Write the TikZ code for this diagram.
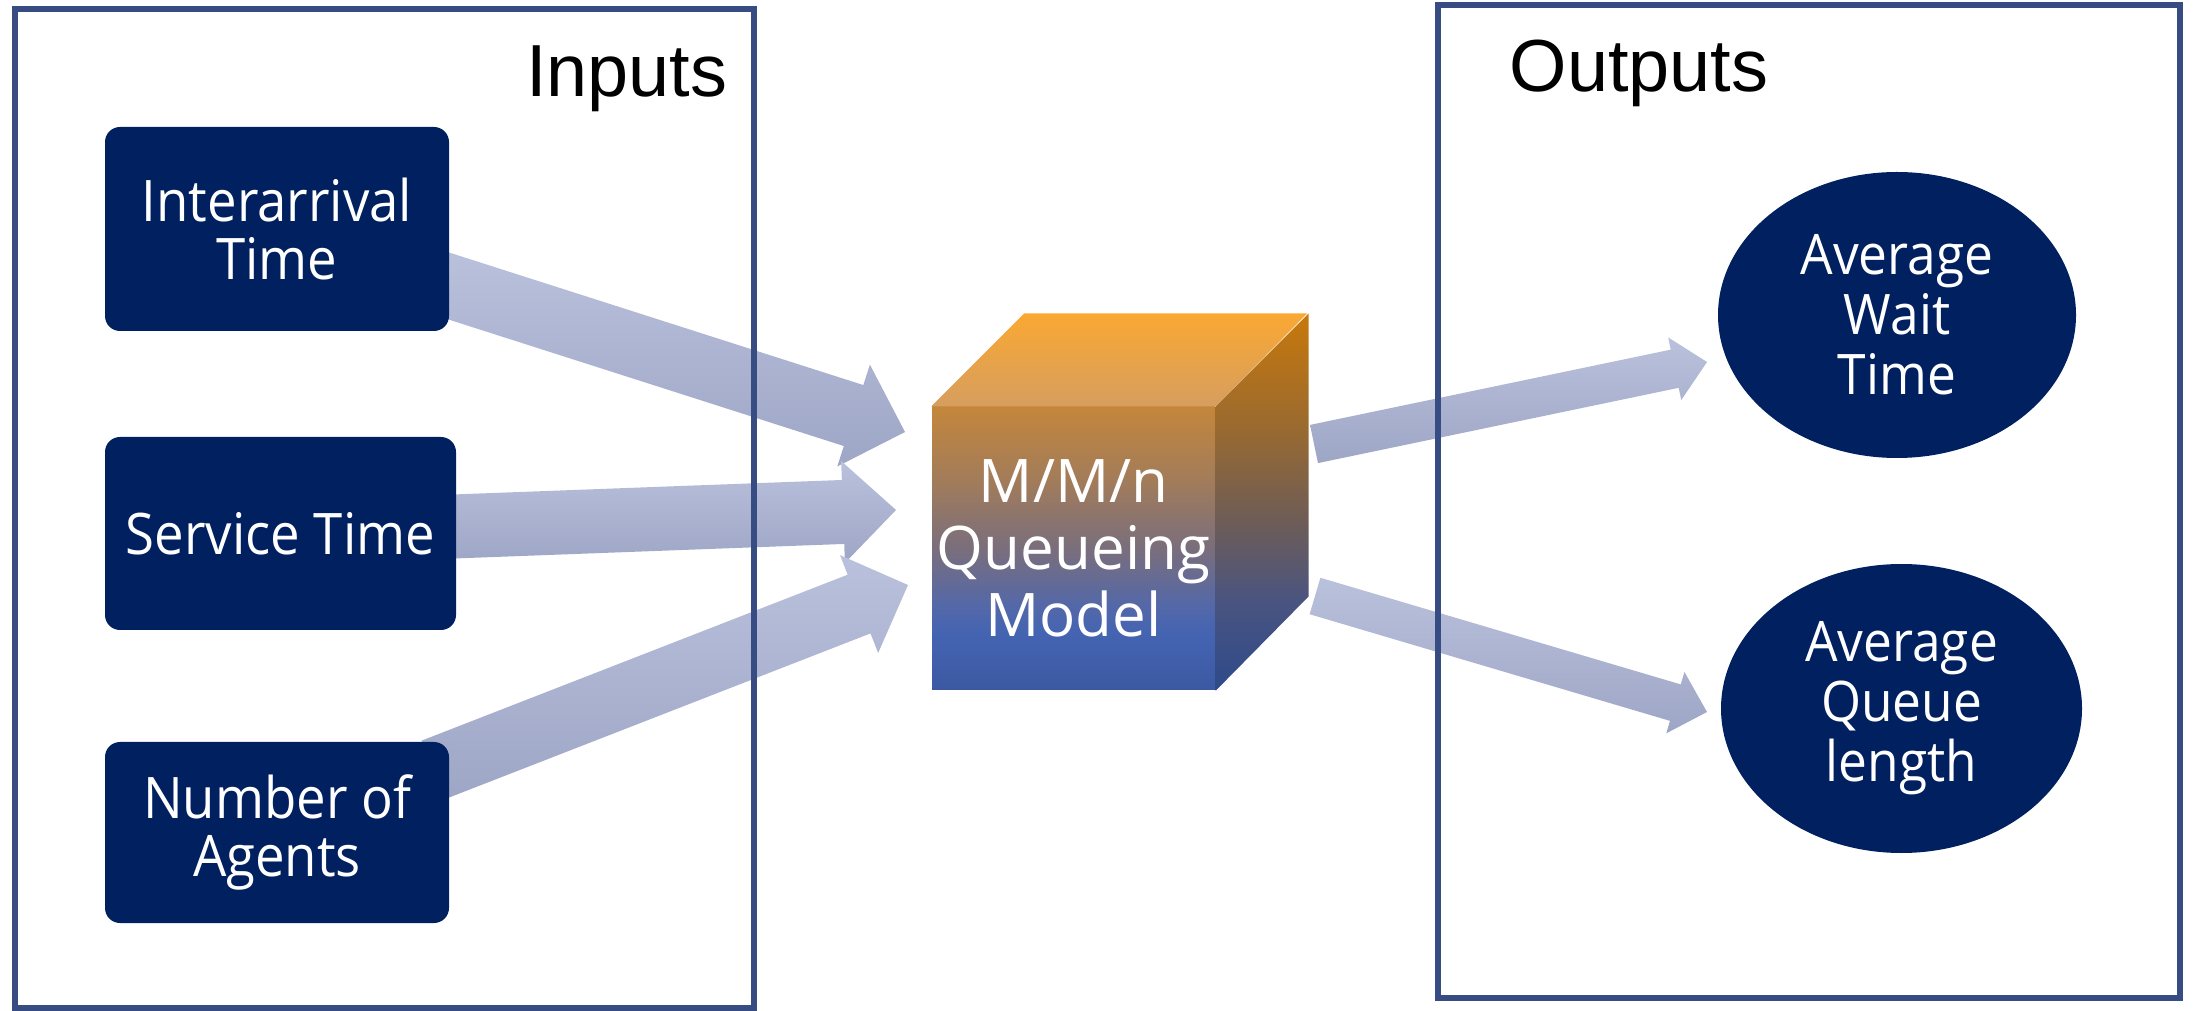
\documentclass[tikz,border=0pt]{standalone}
\usepackage{fontspec}
\setmainfont{Liberation Sans}
\newfontfamily\boxfont[FakeStretch=0.92]{Open Sans}
\newfontfamily\cubefont{Open Sans}
\usetikzlibrary{calc,shapes.geometric,backgrounds}

\definecolor{navy}{RGB}{0,32,96}
\definecolor{framecol}{RGB}{54,76,130}
\definecolor{flowtop}{RGB}{186,193,220}
\definecolor{flowbot}{RGB}{158,166,198}

% cube colours
\definecolor{frbot}{RGB}{60,88,162}
\definecolor{frblue}{RGB}{68,100,178}
\definecolor{frcool}{RGB}{84,104,168}
\definecolor{frmid}{RGB}{122,110,124}
\definecolor{frwarm}{RGB}{162,124,90}
\definecolor{frtop}{RGB}{196,134,60}
\definecolor{rtbot}{RGB}{46,74,138}
\definecolor{rtlow}{RGB}{74,84,128}
\definecolor{rtmid}{RGB}{108,92,88}
\definecolor{rthigh}{RGB}{154,106,48}
\definecolor{rttop}{RGB}{200,120,10}
\definecolor{tpback}{RGB}{250,168,50}
\definecolor{tpfront}{RGB}{214,158,95}

\pgfdeclareverticalshading{cubefront}{100bp}{color(0bp)=(frbot); color(25bp)=(frbot);
  color(35bp)=(frblue); color(40bp)=(frcool); color(50bp)=(frmid);
  color(62bp)=(frwarm); color(75bp)=(frtop); color(100bp)=(frtop)}
\pgfdeclareverticalshading{cuberight}{100bp}{color(0bp)=(rtbot); color(25bp)=(rtbot);
  color(37bp)=(rtlow); color(47bp)=(rtmid); color(60bp)=(rthigh);
  color(75bp)=(rttop); color(100bp)=(rttop)}

% fat arrow: tail, tip, shaft half width, head half width, head length
\newcommand{\flowarrow}[5]{%
  \path ($(#2)!#5!(#1)$) coordinate (fa-base);
  \path[flow] ($(#1)!#3!90:(#2)$) -- ($(fa-base)!#3!90:(#2)$)
    -- ($(fa-base)!#4!90:(#2)$) -- (#2)
    -- ($(fa-base)!#4!-90:(#2)$) -- ($(fa-base)!#3!-90:(#2)$)
    -- ($(#1)!#3!-90:(#2)$) -- cycle;
}

\begin{document}
\begin{tikzpicture}
  \tikzstyle{frame}=[draw=framecol, line width=0.6mm]
  \tikzstyle{inbox}=[fill=navy, text=white, rounded corners=1.5mm, inner sep=0pt, align=center,
    font=\boxfont\fontsize{16.3}{16.5}\selectfont]
  \tikzstyle{outbox}=[ellipse, fill=navy, text=white, inner sep=0pt, align=center,
    font=\boxfont\fontsize{15.9}{17.1}\selectfont]
  \tikzstyle{heading}=[inner sep=0pt, font=\fontsize{21}{25}\selectfont]
  \tikzstyle{flow}=[top color=flowtop, bottom color=flowbot, draw=none]
  \tikzstyle{face}=[shading=cubefront, text=white, inner sep=0pt, minimum size=2.83cm, align=center,
    font=\cubefont\fontsize{17.1}{19.1}\selectfont]

  \useasboundingbox (0, 0) rectangle (21.94, -10.11);

  \node[inbox, minimum width=3.44cm, minimum height=2.04cm] (arr) at (2.77, -2.29) {Interarrival\\Time};
  \node[inbox, minimum width=3.51cm, minimum height=1.93cm] (svc) at (2.805, -5.335) {Service Time};
  \node[inbox, minimum width=3.44cm, minimum height=1.81cm] (agents) at (2.77, -8.325) {Number of\\Agents};

  \node[face] (model) at (10.735, -5.485) {M/M/n\\Queueing\\Model};
  \shade[top color=tpback, bottom color=tpfront] (model.north west) -- ++(0.93, 0.93) -- ++(2.83, 0)
    -- (model.north east) -- cycle;
  \shade[shading=cuberight] (model.north east) -- ++(0.93, 0.93) -- ++(0, -2.83)
    -- (model.south east) -- cycle;

  \node[outbox, minimum width=3.58cm, minimum height=2.86cm] (wait) at (18.97, -3.15) {Average\\Wait\\Time};
  \node[outbox, minimum width=3.61cm, minimum height=2.89cm] (qlen) at (19.015, -7.085) {Average\\Queue\\length};

  \node[heading, anchor=base east] (inputs) at (7.28, -0.97) {Inputs};
  \node[heading, anchor=base west] (outputs) at (15.09, -0.92) {Outputs};

  \draw[frame] (0.15, -0.095) rectangle (7.54, -10.08);
  \draw[frame] (14.38, -0.05) rectangle (21.80, -9.98);

  % tails start under the boxes, tips stop short of the cube and ellipses
  \coordinate (arr-t) at (4.30, -2.80);
  \coordinate (arr-h) at (9.05, -4.32);
  \coordinate (svc-t) at (4.40, -5.27);
  \coordinate (svc-h) at (8.96, -5.10);
  \coordinate (agents-t) at (4.33, -7.70);
  \coordinate (agents-h) at (9.08, -5.85);
  \coordinate (wait-t) at (13.14, -4.44);
  \coordinate (wait-h) at (17.07, -3.62);
  \coordinate (qlen-t) at (13.15, -5.96);
  \coordinate (qlen-h) at (17.07, -7.12);

  \begin{scope}[on background layer]
    \flowarrow{arr-t}{arr-h}{0.32cm}{0.535cm}{0.54cm}
    \flowarrow{svc-t}{svc-h}{0.32cm}{0.51cm}{0.53cm}
    \flowarrow{agents-t}{agents-h}{0.315cm}{0.525cm}{0.525cm}
    \flowarrow{wait-t}{wait-h}{0.195cm}{0.32cm}{0.33cm}
    \flowarrow{qlen-t}{qlen-h}{0.19cm}{0.32cm}{0.33cm}
  \end{scope}
\end{tikzpicture}
\end{document}
